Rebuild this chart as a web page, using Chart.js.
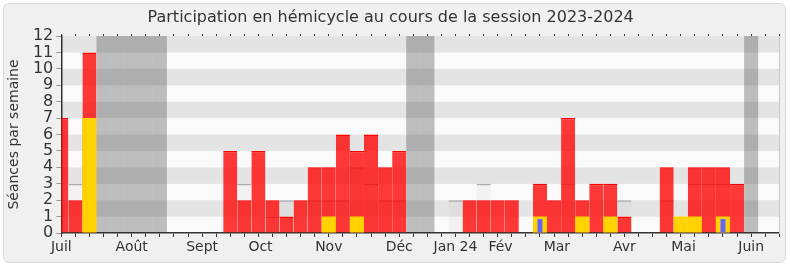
<!DOCTYPE html>
<html lang="fr">
<head>
<meta charset="utf-8">
<title>Participation en hémicycle 2023-2024</title>
<script src="https://cdn.jsdelivr.net/npm/chart.js@4.4.1/dist/chart.umd.min.js"></script>
<style>
  html, body { margin: 0; padding: 0; background: #ffffff; }
  #cadre {
    position: absolute; left: 3px; top: 3px; width: 781px; height: 258px;
    background: #f0f0f0; border: 1px solid #dadada; border-radius: 6px;
  }
  #graphique { position: absolute; left: 0; top: 0; }
</style>
</head>
<body>
<div id="cadre"></div>
<canvas id="graphique" width="790" height="267"></canvas>
<script>
// semaines de la session, juillet 2023 -> juin 2024 (index de semaine)
const semaines = [
  0, 1, 2, 3, 4, 5, 6, 7, 8, 9, 10, 11, 12, 13, 14, 15, 16, 17, 18, 19,
  20, 21, 22, 23, 24, 25, 26, 27, 28, 29, 30, 31, 32, 33, 34, 35, 36, 37,
  38, 39, 40, 41, 42, 43, 44, 45, 46, 47, 48, 49, 50, 51
];

// séances en hémicycle (rouge)
const presences = [
  7, 2, 11, null, null, null, null, null,
  null, null, null, null, 5, 2, 5, 2,
  1, 2, 4, 4, 6, 5, 6, 4,
  5, null, null, null, null, 2, 2, 2,
  2, null, 3, 2, 7, 2, 3, 3,
  1, null, null, 4, null, 4, 4, 4,
  3, null, null, null
];

// dont séances avec intervention (jaune)
const interventions = [
  null, null, 7, null, null, null, null, null,
  null, null, null, null, null, null, null, null,
  null, null, null, 1, null, 1, null, null,
  null, null, null, null, null, null, null, null,
  null, null, 1, null, null, 1, null, 1,
  null, null, null, null, 1, 1, null, 1,
  null, null, null, null
];

// questions orales (bleu)
const questions = [
  null, null, null, null, null, null, null, null,
  null, null, null, null, null, null, null, null,
  null, null, null, null, null, null, null, null,
  null, null, null, null, null, null, null, null,
  null, null, 0.85, null, null, null, null, null,
  null, null, null, null, null, null, null, 0.85,
  null, null, null, null
];

// médiane des députés (gris)
const mediane = [
  null, 3, null, null, null, null, null, null,
  null, null, null, null, null, 3, null, 1,
  2, null, 2, 2, 2, 4, 3, 2,
  2, null, null, null, 2, null, 3, null,
  null, null, null, null, 3, null, null, null,
  2, null, null, 2, null, 3, 3, 3,
  null, null, null, null
];

// vacances parlementaires
const vacances = [
  null, null, null, 12, 12, 12, 12, 12,
  null, null, null, null, null, null, null, null,
  null, null, null, null, null, null, null, null,
  null, 12, 12, null, null, null, null, null,
  null, null, null, null, null, null, null, null,
  null, null, null, null, null, null, null, null,
  null, 12, null, null
];

const moisLabels = ['Juil', 'Août', 'Sept', 'Oct', 'Nov', 'Déc', 'Jan 24', 'Fév', 'Mar', 'Avr', 'Mai', 'Juin'];
const moisPositions = [0, 5, 10, 14.15, 19, 24, 28, 31.2, 35.2, 40, 44.2, 49];

const police = 'DejaVu Sans';
const texte = '#333333';
const largeurSemaine = 14.08;

const serie = (valeurs) => semaines.map((s, i) => ({ x: s, y: valeurs[i] }));

const bandes = {
  id: 'bandes',
  beforeDraw(chart) {
    const { ctx, chartArea, scales: { y } } = chart;
    ctx.save();
    for (let v = 0; v < 12; v++) {
      const haut = y.getPixelForValue(v + 1);
      const bas = y.getPixelForValue(v);
      ctx.fillStyle = v % 2 ? '#e4e4e4' : '#fafafa';
      ctx.fillRect(chartArea.left, haut, chartArea.width, bas - haut);
    }
    ctx.restore();
  }
};

const barre = {
  type: 'bar',
  grouped: false,
  clip: 0,
  inflateAmount: 0,
  barThickness: largeurSemaine
};

new Chart(document.getElementById('graphique'), {
  data: {
    datasets: [
      {
        ...barre, label: 'Questions orales', data: serie(questions), order: 1,
        backgroundColor: '#6666ff', barThickness: 5
      },
      {
        ...barre, label: 'Interventions', data: serie(interventions), order: 2,
        backgroundColor: '#ffd200'
      },
      {
        ...barre, label: 'Présences', data: serie(presences), order: 3,
        backgroundColor: 'rgba(255, 0, 0, 0.78)', borderColor: '#ff0000',
        borderWidth: { top: 1.5, right: 0, bottom: 0, left: 0 }
      },
      {
        ...barre, label: 'Médiane', data: serie(mediane), order: 4,
        backgroundColor: 'rgba(150, 150, 150, 0.08)', borderColor: '#aaaaaa',
        borderWidth: { top: 1.5, right: 0, bottom: 0, left: 0 }
      },
      {
        ...barre, label: 'Vacances', data: serie(vacances), order: 5,
        backgroundColor: 'rgba(40, 40, 40, 0.29)'
      }
    ]
  },
  options: {
    responsive: false,
    devicePixelRatio: 1,
    animation: false,
    events: [],
    layout: { padding: { left: 0, right: 8.7, top: 0, bottom: 4 } },
    plugins: {
      legend: { display: false },
      tooltip: { enabled: false },
      title: {
        display: true,
        text: 'Participation en hémicycle au cours de la session 2023-2024',
        color: texte,
        font: { family: police, size: 16, weight: 'normal' },
        padding: { top: 8.4, bottom: 5.4 }
      }
    },
    scales: {
      x: {
        type: 'linear', position: 'bottom', min: 0, max: 51, offset: false,
        afterBuildTicks(scale) {
          const valeurs = [...new Set([...semaines, ...moisPositions])].sort((a, b) => a - b);
          scale.ticks = valeurs.map((v) => ({ value: v }));
        },
        afterFit(scale) { scale.height = 30; },
        ticks: {
          autoSkip: false, maxRotation: 0, padding: 2, color: texte,
          font: { family: police, size: 14 },
          callback: (v) => {
            const i = moisPositions.indexOf(v);
            return i >= 0 ? moisLabels[i] : '';
          }
        },
        grid: {
          offset: false, drawOnChartArea: false, tickLength: 4, tickWidth: 1,
          tickColor: (ctx) => (ctx.tick && semaines.includes(ctx.tick.value) ? '#333333' : 'rgba(0,0,0,0)')
        },
        border: { color: '#333333', width: 1.5 }
      },
      xHaut: {
        type: 'linear', position: 'top', min: 0, max: 51, offset: false,
        afterBuildTicks(scale) { scale.ticks = semaines.map((v) => ({ value: v })); },
        afterFit(scale) { scale.height = 3; },
        ticks: { display: false },
        grid: { offset: false, drawOnChartArea: false, tickLength: 2, tickColor: '#333333' },
        border: { display: false }
      },
      y: {
        type: 'linear', position: 'left', min: 0, max: 12,
        afterFit(scale) { scale.width = 61.3; },
        ticks: {
          stepSize: 1, autoSkip: false, padding: 3, color: texte,
          font: { family: police, size: 16 }
        },
        grid: { drawOnChartArea: false, tickLength: 5, tickColor: '#999999' },
        border: { color: '#333333', width: 1.5 },
        title: {
          display: true, text: 'Séances par semaine', color: texte,
          font: { family: police, size: 14 }, padding: { top: 6, bottom: 0 }
        }
      },
      yDroite: {
        type: 'linear', position: 'right', min: 0, max: 12,
        afterFit(scale) { scale.width = 2; },
        ticks: { display: false },
        grid: { display: false, drawTicks: false },
        border: { color: '#c8c8c8', width: 1 }
      }
    }
  },
  plugins: [bandes]
});
</script>
</body>
</html>
